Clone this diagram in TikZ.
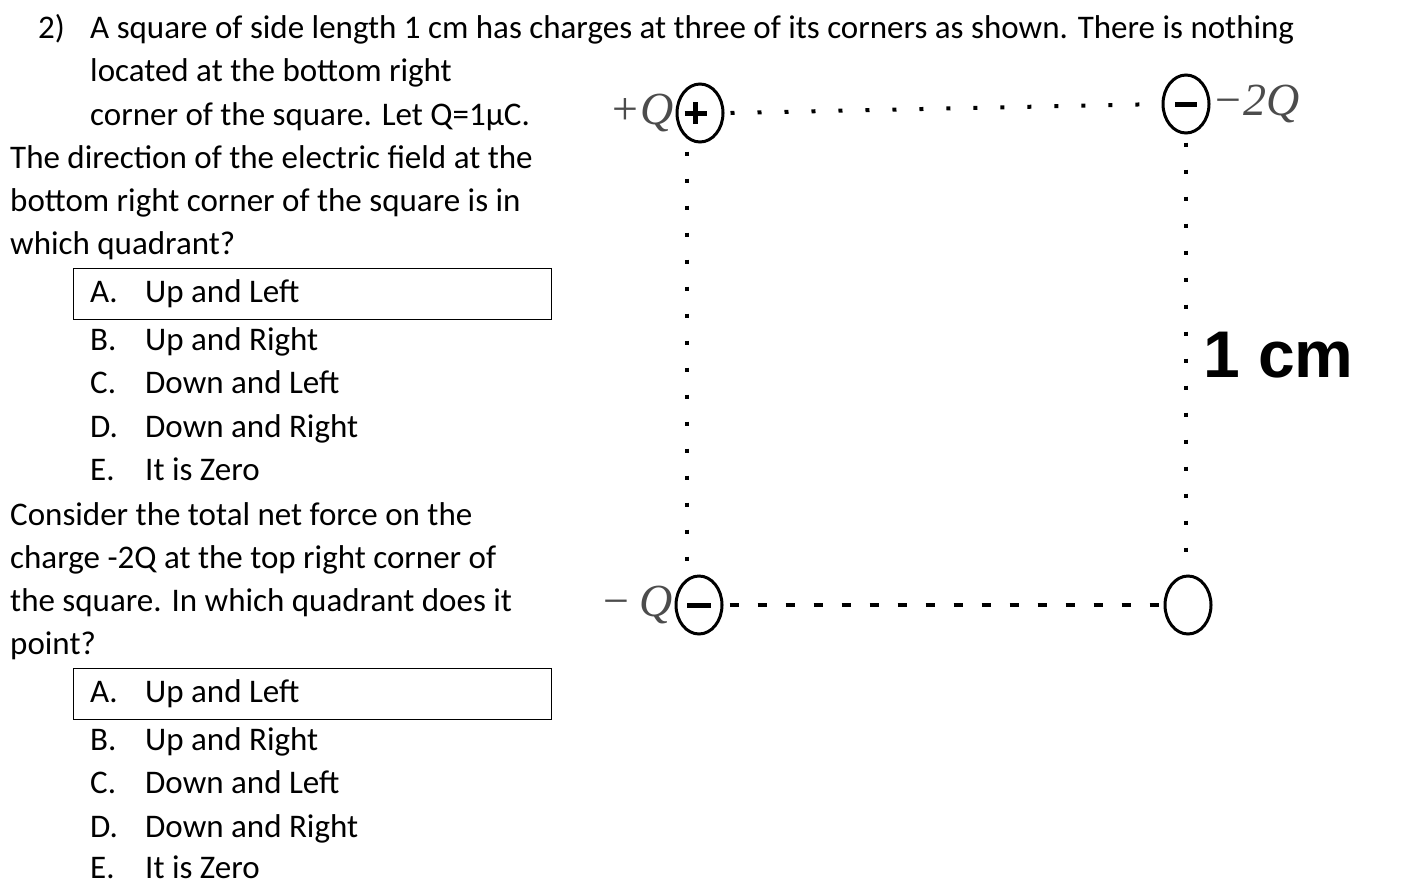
\documentclass[tikz,border=0pt]{standalone}
\usepackage{fontspec}
\setmainfont{Carlito}
\newfontfamily\arialb{Liberation Sans}
\newfontfamily\serifq{Liberation Serif}
\usetikzlibrary{shapes.geometric}
\begin{document}
\begin{tikzpicture}[x=1pt,y=-1pt,
  txt/.style={anchor=base west,inner sep=0pt,font=\fontsize{33}{36}\selectfont},
  chg/.style={draw,ellipse,line width=3pt,minimum width=46pt,minimum height=58pt,inner sep=0pt},
  lbl/.style={inner sep=0pt,text=black!70,font=\fontsize{46}{48}\serifq\itshape},
  dline/.style={line width=4pt,dash pattern=on 4pt off 23pt},
  dlineb/.style={line width=4pt,dash pattern=on 9pt off 19pt},
  box/.style={draw,line width=1pt}]
\useasboundingbox (0,0) rectangle (1410,884);
\node[txt] (n2) at (38,38) {2)};
\node[txt] (l1) at (90,38) {A square of side length 1 cm has charges at three of its corners as shown. There is nothing};
\node[txt] (l2) at (90,81) {located at the bottom right};
\node[txt] (l3) at (90,125) {corner of the square. Let Q=1µC.};
\node[txt] (l4) at (10,168) {The direction of the electric field at the};
\node[txt] (l5) at (10,211) {bottom right corner of the square is in};
\node[txt] (l6) at (10,254) {which quadrant?};
\draw[box] (73,268) rectangle (551,319);
\foreach \y/\l/\t [count=\i] in {302/A./Up and Left,350/B./Up and Right,393/C./Down and Left,437/D./Down and Right,480/E./It is Zero}{
  \node[txt] (a\i) at (90,\y) {\l};
  \node[txt] (at\i) at (145,\y) {\t};}
\node[txt] (c1) at (10,525) {Consider the total net force on the};
\node[txt] (c2) at (10,568) {charge -2Q at the top right corner of};
\node[txt] (c3) at (10,611) {the square. In which quadrant does it};
\node[txt] (c4) at (10,654) {point?};
\draw[box] (73,668) rectangle (551,719);
\foreach \y/\l/\t [count=\i] in {702/A./Up and Left,750/B./Up and Right,793/C./Down and Left,837/D./Down and Right,878/E./It is Zero}{
  \node[txt] (b\i) at (90,\y) {\l};
  \node[txt] (bt\i) at (145,\y) {\t};}
% charges
\node[chg] (tl) at (700,113) {\rule[-2.5pt]{4.5pt}{22pt}\hspace{-13.25pt}\rule[6pt]{22pt}{4.5pt}};
\node[chg] (tr) at (1186,104) {\rule[0pt]{22pt}{5pt}};
\node[chg] (bl) at (699,605) {\rule[0pt]{24pt}{5pt}};
\node[chg] (br) at (1188,605) {};
\draw[dline] (tl.east) ++(6,0) -- (tr.west);
\draw[dline] (tl.south) ++(-13,8) coordinate (tls) -- (tls |- bl.north);
\draw[dline] (tr.south) ++(0,8) -- (tr.south |- br.north);
\draw[dlineb] (bl.east) ++(6,0) -- (br.west);
\node[lbl,anchor=east] (pq) at (tl.west) [xshift=-2pt] {+Q};
\node[lbl,anchor=west] (mq2) at (tr.east) [xshift=2pt] {−2Q};
\node[lbl,anchor=east] (mq) at (bl.west) [xshift=-2pt] {−\,Q};
\node[inner sep=0pt,anchor=west,font=\fontsize{66}{66}\arialb\bfseries] (cm) at (1203,355) {1 cm};
\end{tikzpicture}
\end{document}
